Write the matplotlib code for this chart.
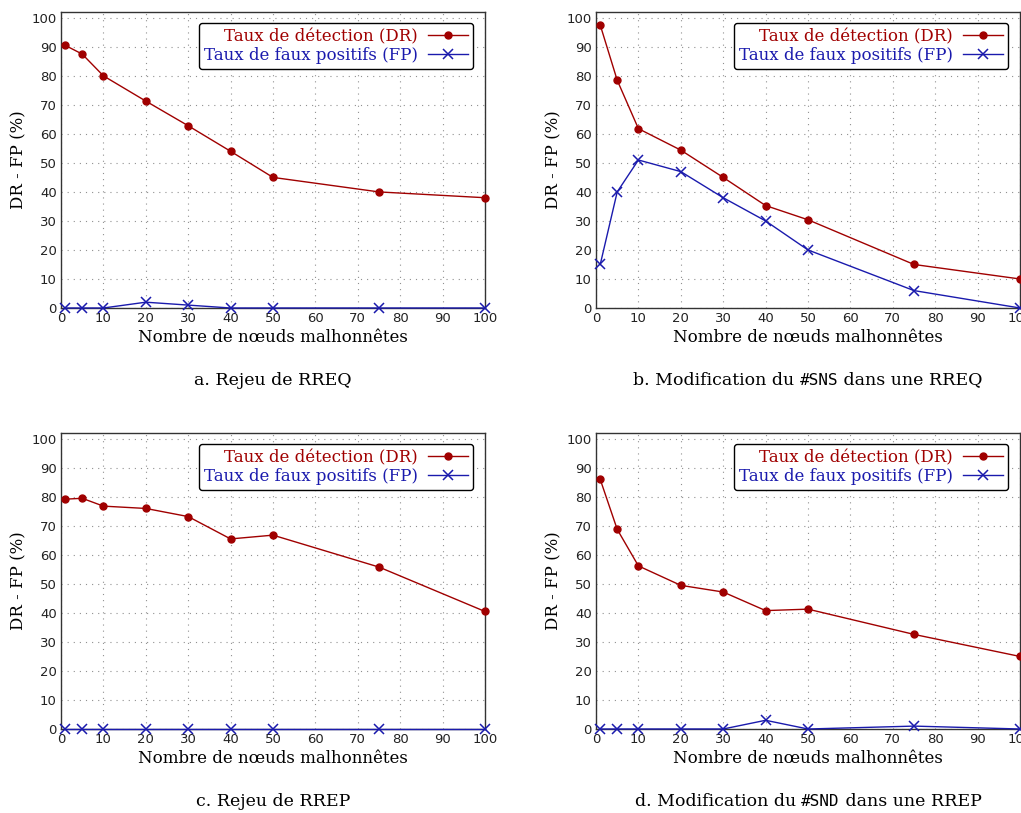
import matplotlib
matplotlib.use('Agg')
import matplotlib.pyplot as plt

plt.rcParams['font.family'] = ['DejaVu Serif']

x = [1, 5, 10, 20, 30, 40, 50, 75, 100]

dr_a = [90.5, 87.5, 80, 71.3, 62.8, 54, 45, 40, 38]
fp_a = [0, 0, 0, 2, 1, 0, 0, 0, 0]
dr_b = [97.5, 78.5, 61.8, 54.4, 45, 35.3, 30.4, 15, 10]
fp_b = [15, 40, 51, 47, 38, 30, 20, 6, 0]
dr_c = [79.2, 79.5, 76.8, 76, 73.2, 65.5, 66.8, 55.8, 40.5]
fp_c = [0, 0, 0, 0, 0, 0, 0, 0, 0]
dr_d = [86, 68.8, 56.2, 49.5, 47.2, 40.8, 41.3, 32.6, 25]
fp_d = [0, 0, 0, 0, 0, 3, 0, 1, 0]

lbl_dr = 'Taux de détection (DR)'
lbl_fp = 'Taux de faux positifs (FP)'
xlab = 'Nombre de nœuds malhonnêtes'
ylab = 'DR - FP (%)'
captions = [('a. Rejeu de RREQ', None),
            ('b. Modification du ', 'SNS', ' dans une RREQ'),
            ('c. Rejeu de RREP', None),
            ('d. Modification du ', 'SND', ' dans une RREP')]

red = '#a00000'
blue = '#1a1aad'

W, H = 1021, 813
fig = plt.figure(figsize=(W / 100, H / 100), dpi=100)

# axes boxes in pixels: left, top
boxes = [(61, 12), (596, 12), (61, 433), (596, 433)]
aw, ah = 424, 296
data = [(dr_a, fp_a), (dr_b, fp_b), (dr_c, fp_c), (dr_d, fp_d)]

for i, ((l, t), (dr, fp)) in enumerate(zip(boxes, data)):
    ax = fig.add_axes([l / W, 1 - (t + ah) / H, aw / W, ah / H])
    ax.plot(x, dr, color=red, lw=1, marker='o', ms=5, label=lbl_dr, clip_on=False, zorder=3)
    ax.plot(x, fp, color=blue, lw=1, marker='x', ms=6.5, mew=1.1, label=lbl_fp, clip_on=False, zorder=3)
    ax.set_xlim(0, 100)
    ax.set_ylim(0, 102)
    ax.set_xticks(range(0, 101, 10))
    ax.set_yticks(range(0, 101, 10))
    ax.grid(True, linestyle=(0, (1, 4.5)), color='#909090', lw=0.8)
    ax.tick_params(direction='in', length=0, labelsize=9.5, pad=3, colors='#222222')
    for lab in ax.get_xticklabels() + ax.get_yticklabels():
        lab.set_family('DejaVu Sans')
    for s in ax.spines.values():
        s.set_color('#333333')
        s.set_linewidth(1)
    ax.set_xlabel(xlab, fontsize=12, labelpad=3)
    ax.set_ylabel(ylab, fontsize=12, labelpad=3)
    leg = ax.legend(loc='upper right', markerfirst=False, fontsize=12, frameon=True,
                    fancybox=True, edgecolor='black', framealpha=1, borderpad=0.3,
                    labelspacing=0.12, handlelength=2.4, handletextpad=0.6,
                    borderaxespad=0, bbox_to_anchor=(0.972, 0.963))
    leg.get_frame().set_linewidth(1)
    leg.texts[0].set_color(red)
    leg.texts[1].set_color(blue)

    # caption below each panel
    cy = 1 - (t + ah + 72) / H
    cx = (l + aw / 2) / W
    cap = captions[i]
    if cap[1] is None:
        fig.text(cx, cy, cap[0], ha='center', va='center', fontsize=12.5)
    else:
        t1 = fig.text(0, cy, cap[0], ha='left', va='center', fontsize=12.5)
        t2 = fig.text(0, cy, '#' + cap[1], ha='left', va='center', fontsize=11.5,
                      family='DejaVu Sans Mono')
        t3 = fig.text(0, cy, cap[2], ha='left', va='center', fontsize=12.5)
        r = fig.canvas.get_renderer()
        w1 = t1.get_window_extent(r).width / W
        w2 = t2.get_window_extent(r).width / W
        w3 = t3.get_window_extent(r).width / W
        x0 = cx - (w1 + w2 + w3) / 2
        t1.set_x(x0)
        t2.set_x(x0 + w1)
        t3.set_x(x0 + w1 + w2)

fig.savefig('out.png', dpi=100)
